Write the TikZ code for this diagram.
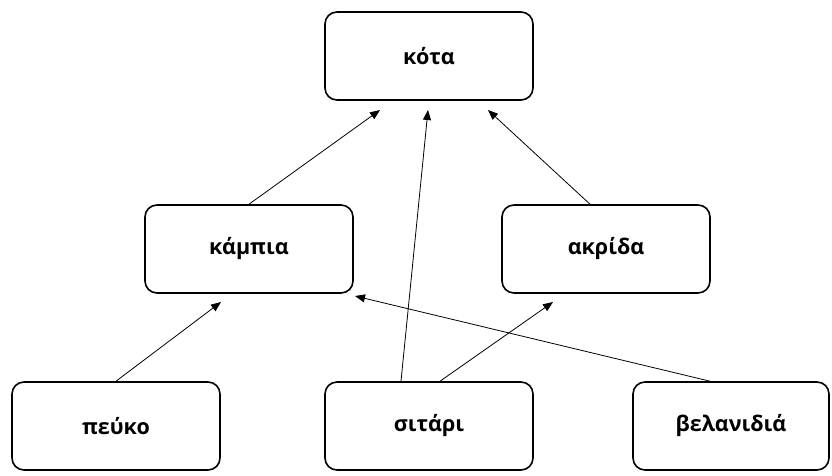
\documentclass[tikz,border=0pt]{standalone}
\usepackage{fontspec}
\setmainfont{Open Sans}
\usetikzlibrary{arrows.meta}
\begin{document}
\begin{tikzpicture}[x=1pt,y=-1pt,
  box/.style={draw, line width=1.6pt, rounded corners=12pt, minimum width=208pt, minimum height=88pt, inner sep=0pt, font=\bfseries\fontsize{21.5}{24}\selectfont},
  arr/.style={-{Triangle[length=10pt,width=8pt]}, line width=0.8pt}]
\useasboundingbox (0,0) rectangle (832,475);
\node[box] (kota) at (429,56) {κότα};
\node[box] (kampia) at (249,249) {κάμπια};
\node[box] (akrida) at (606,249) {ακρίδα};
\node[box] (peuko) at (116,426) {πεύκο};
\node[box] (sitari) at (429,426) {σιτάρι};
\node[box, minimum width=196pt] (velanidia) at (731,426) {βελανιδιά};
\coordinate (t1) at (380,110);
\coordinate (t2) at (428,110);
\coordinate (t3) at (488,110);
\coordinate (t4) at (221,302);
\coordinate (t5) at (553,302);
\coordinate (t6) at (355,296);
\draw[arr] (kampia.north) -- (t1);
\draw[arr] ([xshift=-28pt]sitari.north) -- (t2);
\draw[arr] ([xshift=-16pt]akrida.north) -- (t3);
\draw[arr] (peuko.north) -- (t4);
\draw[arr] ([xshift=11pt]sitari.north) -- (t5);
\draw[arr] ([xshift=-21pt]velanidia.north) -- (t6);
\end{tikzpicture}
\end{document}
